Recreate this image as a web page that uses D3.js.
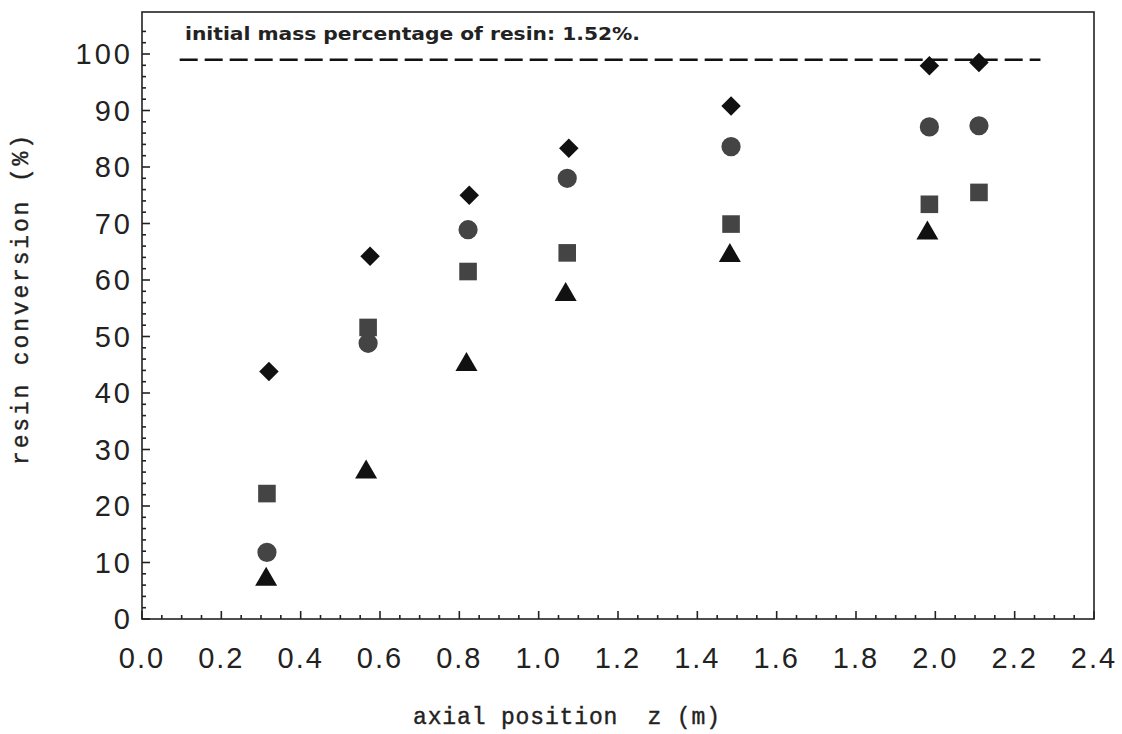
<!DOCTYPE html>
<html><head><meta charset="utf-8">
<script src="https://cdn.jsdelivr.net/npm/d3@7"></script>
<style>body{margin:0;background:#fff}svg{display:block}</style>
</head><body>
<svg id="c" width="1122" height="734"></svg>
<script>
const xTicks = [0.0,0.2,0.4,0.6,0.8,1.0,1.2,1.4,1.6,1.8,2.0,2.2,2.4];
const yTicks = [0,10,20,30,40,50,60,70,80,90,100];
const diamondX = [0.32,0.575,0.825,1.076,1.485,1.985,2.11];
const diamondY = [43.8,64.2,75.0,83.3,90.8,97.9,98.5];
const circleX = [0.315,0.57,0.822,1.072,1.485,1.985,2.11];
const circleY = [11.8,48.8,68.9,78.0,83.6,87.1,87.3];
const squareX = [0.315,0.57,0.822,1.072,1.485,1.985,2.11];
const squareY = [22.2,51.6,61.5,64.8,69.9,73.4,75.5];
const triangleX = [0.313,0.565,0.818,1.068,1.482,1.98];
const triangleY = [7.0,26.0,45.0,57.4,64.3,68.3];
const refLevel = 99.0;
const refRange = [0.095,2.265];
const note = "initial mass percentage of resin: 1.52%.";

const svg = d3.select("#c");
const x = d3.scaleLinear().domain([0,2.4]).range([142,1094]);
const y = d3.scaleLinear().domain([0,100]).range([619,54]);
const frameTop = 12;

// frame
svg.append("rect").attr("x",x(0)).attr("y",frameTop).attr("width",x(2.4)-x(0)).attr("height",y(0)-frameTop)
  .attr("fill","none").attr("stroke","#222").attr("stroke-width",1.6);

// x axis ticks (inward)
const xMinor = d3.range(0,2.4001,0.05);
svg.append("g").selectAll("line").data(xMinor).join("line")
  .attr("x1",d=>x(d)).attr("x2",d=>x(d)).attr("y1",y(0))
  .attr("y2",(d,i)=> i%4===0 ? y(0)-8 : y(0)-4)
  .attr("stroke","#222").attr("stroke-width",1.6);
svg.append("g").selectAll("text").data(xTicks).join("text")
  .attr("x",d=>x(d)).attr("y",668).attr("text-anchor","middle")
  .attr("font-family","'Liberation Sans',Arial,sans-serif").attr("font-size",29)
  .attr("letter-spacing",2).attr("fill","#222").text(d=>d.toFixed(1));

// y axis ticks
const yMinor = d3.range(0,106,2);
svg.append("g").selectAll("line").data(yMinor).join("line")
  .attr("y1",d=>y(d)).attr("y2",d=>y(d)).attr("x1",x(0))
  .attr("x2",(d,i)=> i%5===0 ? x(0)+8 : x(0)+4)
  .attr("stroke","#222").attr("stroke-width",1.6);
svg.append("g").selectAll("text").data(yTicks).join("text")
  .attr("x",133).attr("y",d=>y(d)+10).attr("text-anchor","end")
  .attr("font-family","'Liberation Sans',Arial,sans-serif").attr("font-size",29)
  .attr("letter-spacing",3).attr("fill","#222").text(d=>d);

// axis titles
svg.append("text").attr("x",413).attr("y",724).attr("textLength",307).attr("lengthAdjust","spacing")
  .attr("font-family","'Liberation Mono','Courier New',monospace").attr("font-size",23)
  .attr("stroke","#222").attr("stroke-width",0.4)
  .attr("fill","#222").style("white-space","pre").text("axial position  z (m)");
svg.append("text").attr("transform","translate(28,300) rotate(-90)").attr("text-anchor","middle")
  .attr("textLength",330).attr("lengthAdjust","spacing")
  .attr("font-family","'Liberation Mono','Courier New',monospace").attr("font-size",23)
  .attr("stroke","#222").attr("stroke-width",0.4)
  .attr("fill","#222").text("resin conversion (%)");

// annotation
svg.append("text").attr("x",185).attr("y",40).attr("textLength",455).attr("lengthAdjust","spacingAndGlyphs")
  .attr("font-family","'DejaVu Sans',sans-serif").attr("font-weight","bold").attr("font-size",18)
  .attr("fill","#222").text(note);

// reference dashed line
svg.append("line").attr("x1",x(refRange[0])).attr("x2",x(refRange[1]))
  .attr("y1",y(refLevel)).attr("y2",y(refLevel))
  .attr("stroke","#111").attr("stroke-width",2.5).attr("stroke-dasharray","18,7");

// markers
function plot(xs, ys, type, size, color, rot){
  svg.append("g").selectAll("path").data(xs.map((v,i)=>[v,ys[i]])).join("path")
    .attr("transform",d=>`translate(${x(d[0])},${y(d[1])}) rotate(${rot||0})`)
    .attr("d",d3.symbol().type(type).size(size)).attr("fill",color);
}
plot(diamondX, diamondY, d3.symbolSquare, 190, "#111", 45);
plot(circleX, circleY, d3.symbolCircle, 290, "#444");
plot(squareX, squareY, d3.symbolSquare, 310, "#444");
plot(triangleX, triangleY, d3.symbolTriangle, 210, "#111");
</script>
</body></html>
